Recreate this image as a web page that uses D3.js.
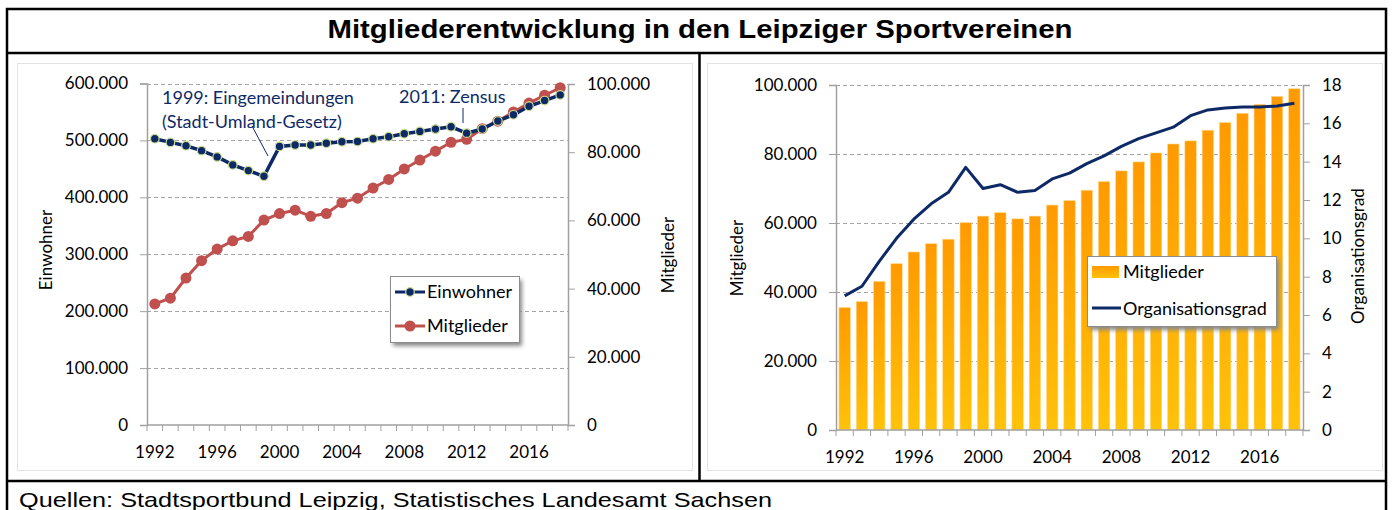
<!DOCTYPE html>
<meta charset="utf-8">
<head>
  <title>Mitgliederentwicklung in den Leipziger Sportvereinen</title>
  <script src="https://d3js.org/d3.v7.min.js"></script>
  <style>
    body { margin: 0; background: #fff; }
    svg text { font-family: Lato, "Open Sans", sans-serif; }
    .tick text { font-size: 17px; fill: #000; }
  </style>
</head>
<body>
<svg width="1394" height="510"></svg>
<script>

  // data
  var years = d3.range(1992, 2019);
  var einwohner = [503000, 496500, 490700, 482000, 471000, 457000, 447000, 437000, 489500,
    492000, 492000, 495000, 497700, 498000, 503000, 506500, 511700, 515800, 519900,
    524000, 512800, 520000, 534000, 545000, 560000, 570000, 580000];
  var mitglieder = [35500, 37200, 43100, 48200, 51600, 54000, 55300, 60100, 62000,
    63000, 61200, 62000, 65200, 66500, 69500, 72000, 75100, 77700, 80300,
    82900, 83800, 86900, 89100, 91800, 94400, 96700, 98900];
  var orgGrad = [7.0, 7.5, 8.8, 10.0, 11.0, 11.8, 12.4, 13.7, 12.6, 12.8, 12.4, 12.5, 13.1,
    13.4, 13.9, 14.3, 14.8, 15.2, 15.5, 15.8, 16.4, 16.7, 16.8, 16.85, 16.85, 16.9, 17.05];
  var einwTicks = [0, 100000, 200000, 300000, 400000, 500000, 600000];
  var mitgTicks = [0, 20000, 40000, 60000, 80000, 100000];
  var orgTicks = [0, 2, 4, 6, 8, 10, 12, 14, 16, 18];
  var yearLabels = [1992, 1996, 2000, 2004, 2008, 2012, 2016];

  var navy = "#0e2a66", red = "#c0504d", grid = "#a6a6a6", axisCol = "#a0a0a0";
  var de = d3.formatLocale({decimal: ",", thousands: ".", grouping: [3], currency: ["", " €"]});
  var fmt = de.format(",.0f");

  var svg = d3.select("svg");
  var defs = svg.append("defs");

  var grad = defs.append("linearGradient").attr("id", "barGrad")
    .attr("x1", 0).attr("y1", 0).attr("x2", 0).attr("y2", 1);
  grad.append("stop").attr("offset", "0%").attr("stop-color", "#ff9a00");
  grad.append("stop").attr("offset", "100%").attr("stop-color", "#ffc20a");

  var shadow = defs.append("filter").attr("id", "shadow")
    .attr("x", "-10%").attr("y", "-10%").attr("width", "130%").attr("height", "140%");
  shadow.append("feGaussianBlur").attr("stdDeviation", 2);

  // outer frame
  var frame = svg.append("g").attr("stroke", "#000").attr("stroke-width", 2.5);
  frame.append("rect").attr("x", 7).attr("y", 9).attr("width", 1379).attr("height", 520).attr("fill", "none");
  frame.append("line").attr("x1", 7).attr("x2", 1386).attr("y1", 53).attr("y2", 53);
  frame.append("line").attr("x1", 7).attr("x2", 1386).attr("y1", 481).attr("y2", 481);
  frame.append("line").attr("x1", 699.5).attr("x2", 699.5).attr("y1", 53).attr("y2", 481);

  svg.append("text").attr("x", 700).attr("y", 38).attr("text-anchor", "middle")
    .attr("textLength", 745).attr("lengthAdjust", "spacingAndGlyphs")
    .style("font-family", "'Liberation Sans', Arial, sans-serif")
    .style("font-size", "25px").style("font-weight", "bold")
    .text("Mitgliederentwicklung in den Leipziger Sportvereinen");

  svg.append("text").attr("x", 19).attr("y", 507)
    .attr("textLength", 753).attr("lengthAdjust", "spacingAndGlyphs")
    .style("font-family", "'Liberation Sans', Arial, sans-serif")
    .style("font-size", "21px")
    .text("Quellen: Stadtsportbund Leipzig, Statistisches Landesamt Sachsen");

  // chart area boxes
  svg.append("rect").attr("x", 17.5).attr("y", 63.5).attr("width", 675).attr("height", 407)
    .attr("fill", "#fff").attr("stroke", "#e3e3e3");
  svg.append("rect").attr("x", 707.5).attr("y", 63.5).attr("width", 675).attr("height", 407)
    .attr("fill", "#fff").attr("stroke", "#e3e3e3");

  function xAxisParts(g, x, yBase) {
    // ticks at every category boundary
    var bounds = years.map(function(d) { return x(d); }).concat([x.range()[1]]);
    g.append("g").selectAll("line").data(bounds).enter().append("line")
      .attr("x1", function(d) { return d; }).attr("x2", function(d) { return d; })
      .attr("y1", yBase).attr("y2", yBase + 6)
      .attr("stroke", axisCol);
    g.append("line").attr("x1", x.range()[0]).attr("x2", x.range()[1])
      .attr("y1", yBase).attr("y2", yBase).attr("stroke", axisCol).attr("stroke-width", 1.5);
    g.append("g").attr("transform", "translate(0," + yBase + ")")
      .call(d3.axisBottom(x).tickValues(yearLabels).tickSize(0).tickPadding(21))
      .call(function(a) { a.select(".domain").remove(); });
  }

  function gridLines(g, y, ticks, x0, x1) {
    g.append("g").selectAll("line").data(ticks.slice(1)).enter().append("line")
      .attr("x1", x0).attr("x2", x1)
      .attr("y1", function(d) { return Math.round(y(d)) + 0.5; })
      .attr("y2", function(d) { return Math.round(y(d)) + 0.5; })
      .attr("stroke", grid).attr("stroke-dasharray", "4,3");
  }

  function yAxis(g, y, ticks, xPos, left, format) {
    var ax = (left ? d3.axisLeft(y) : d3.axisRight(y)).tickValues(ticks)
      .tickSize(7).tickPadding(12).tickFormat(format);
    g.append("g").attr("transform", "translate(" + xPos + ",0)").call(ax)
      .call(function(a) {
        a.select(".domain").attr("stroke", axisCol).attr("stroke-width", 1.5);
        a.selectAll(".tick line").attr("stroke", axisCol);
      });
  }

  function axisTitle(g, text, cx, cy) {
    g.append("text").attr("transform", "translate(" + cx + "," + cy + ") rotate(-90)")
      .attr("text-anchor", "middle").style("font-size", "17px").text(text);
  }

  // ---------- left chart ----------
  var left = svg.append("g");
  var x1 = d3.scaleBand().domain(years).range([147, 568]);
  var yE = d3.scaleLinear().domain([0, 600000]).range([425, 83.5]);
  var yM = d3.scaleLinear().domain([0, 100000]).range([425, 84]);
  var cx1 = function(d, i) { return x1(years[i]) + x1.bandwidth() / 2; };

  gridLines(left, yE, einwTicks, 147, 568);
  yAxis(left, yE, einwTicks, 147, true, function(d) { return fmt(d); });
  yAxis(left, yM, mitgTicks, 568, false, function(d) { return fmt(d); });
  xAxisParts(left, x1, 425);
  axisTitle(left, "Einwohner", 52, 250);
  axisTitle(left, "Mitglieder", 674, 255);

  left.append("path").datum(mitglieder)
    .attr("fill", "none").attr("stroke", red).attr("stroke-width", 3)
    .attr("d", d3.line().x(cx1).y(function(d) { return yM(d); }));
  left.append("g").selectAll("circle").data(mitglieder).enter().append("circle")
    .attr("cx", cx1).attr("cy", function(d) { return yM(d); }).attr("r", 5.5)
    .attr("fill", red);

  left.append("path").datum(einwohner)
    .attr("fill", "none").attr("stroke", navy).attr("stroke-width", 3.5)
    .attr("d", d3.line().x(cx1).y(function(d) { return yE(d); }));
  left.append("g").selectAll("circle").data(einwohner).enter().append("circle")
    .attr("cx", cx1).attr("cy", function(d) { return yE(d); }).attr("r", 4.3)
    .attr("fill", navy).attr("stroke", "#c9dc8e").attr("stroke-width", 1.2);

  // annotations
  var ann = left.append("g").attr("fill", navy).style("font-size", "18px");
  ann.append("text").attr("x", 162).attr("y", 104).text("1999: Eingemeindungen");
  ann.append("text").attr("x", 162).attr("y", 128).text("(Stadt-Umland-Gesetz)");
  ann.append("text").attr("x", 399).attr("y", 103).text("2011: Zensus");
  left.append("line").attr("x1", 252).attr("y1", 126).attr("x2", 268).attr("y2", 156)
    .attr("stroke", navy).attr("stroke-width", 1);
  left.append("line").attr("x1", 463).attr("y1", 108).attr("x2", 463).attr("y2", 123)
    .attr("stroke", navy).attr("stroke-width", 1);

  // legend left
  var lg = left.append("g").attr("transform", "translate(390,276)");
  lg.append("rect").attr("x", 3).attr("y", 4).attr("width", 129).attr("height", 66)
    .attr("fill", "#888").attr("filter", "url(#shadow)");
  lg.append("rect").attr("x", 0.5).attr("y", 0.5).attr("width", 129).attr("height", 66)
    .attr("fill", "#fff").attr("stroke", "#8c8c8c");
  lg.append("line").attr("x1", 5).attr("x2", 35).attr("y1", 16).attr("y2", 16)
    .attr("stroke", navy).attr("stroke-width", 3);
  lg.append("circle").attr("cx", 20).attr("cy", 16).attr("r", 4.3)
    .attr("fill", navy).attr("stroke", "#c9dc8e").attr("stroke-width", 1.2);
  lg.append("text").attr("x", 37).attr("y", 22).style("font-size", "18px").text("Einwohner");
  lg.append("line").attr("x1", 5).attr("x2", 35).attr("y1", 50).attr("y2", 50)
    .attr("stroke", red).attr("stroke-width", 3);
  lg.append("circle").attr("cx", 20).attr("cy", 50).attr("r", 5.5).attr("fill", red);
  lg.append("text").attr("x", 37).attr("y", 56).style("font-size", "18px").text("Mitglieder");

  // ---------- right chart ----------
  var right = svg.append("g");
  var x2 = d3.scaleBand().domain(years).range([836, 1303]);
  var yB = d3.scaleLinear().domain([0, 100000]).range([430, 85]);
  var yO = d3.scaleLinear().domain([0, 18]).range([430, 85]);
  var cx2 = function(d, i) { return x2(years[i]) + x2.bandwidth() / 2; };
  var bw = x2.bandwidth() * 0.66;

  gridLines(right, yB, mitgTicks, 836, 1303);

  right.append("g").selectAll("rect").data(mitglieder).enter().append("rect")
    .attr("x", function(d, i) { return cx2(d, i) - bw / 2; })
    .attr("y", function(d) { return yB(d); })
    .attr("width", bw)
    .attr("height", function(d) { return yB(0) - yB(d); })
    .attr("fill", "url(#barGrad)").attr("stroke", "#ffd98a").attr("stroke-width", 0.6);

  yAxis(right, yB, mitgTicks, 836, true, function(d) { return fmt(d); });
  yAxis(right, yO, orgTicks, 1303, false, function(d) { return d; });
  xAxisParts(right, x2, 430);
  axisTitle(right, "Mitglieder", 743, 258);
  axisTitle(right, "Organisationsgrad", 1364, 256);

  right.append("path").datum(orgGrad)
    .attr("fill", "none").attr("stroke", navy).attr("stroke-width", 3)
    .attr("stroke-linejoin", "round")
    .attr("d", d3.line().x(cx2).y(function(d) { return yO(d); }));

  // legend right
  var lr = right.append("g").attr("transform", "translate(1087,256)");
  lr.append("rect").attr("x", 3).attr("y", 4).attr("width", 189).attr("height", 70)
    .attr("fill", "#888").attr("filter", "url(#shadow)");
  lr.append("rect").attr("x", 0.5).attr("y", 0.5).attr("width", 189).attr("height", 70)
    .attr("fill", "#fff").attr("stroke", "#8c8c8c");
  lr.append("rect").attr("x", 5).attr("y", 10).attr("width", 27).attr("height", 12)
    .attr("fill", "url(#barGrad)");
  lr.append("text").attr("x", 36).attr("y", 22).style("font-size", "18px").text("Mitglieder");
  lr.append("line").attr("x1", 5).attr("x2", 34).attr("y1", 52).attr("y2", 52)
    .attr("stroke", navy).attr("stroke-width", 3);
  lr.append("text").attr("x", 36).attr("y", 59).style("font-size", "18px").text("Organisationsgrad");

</script>
</body>
</html>
